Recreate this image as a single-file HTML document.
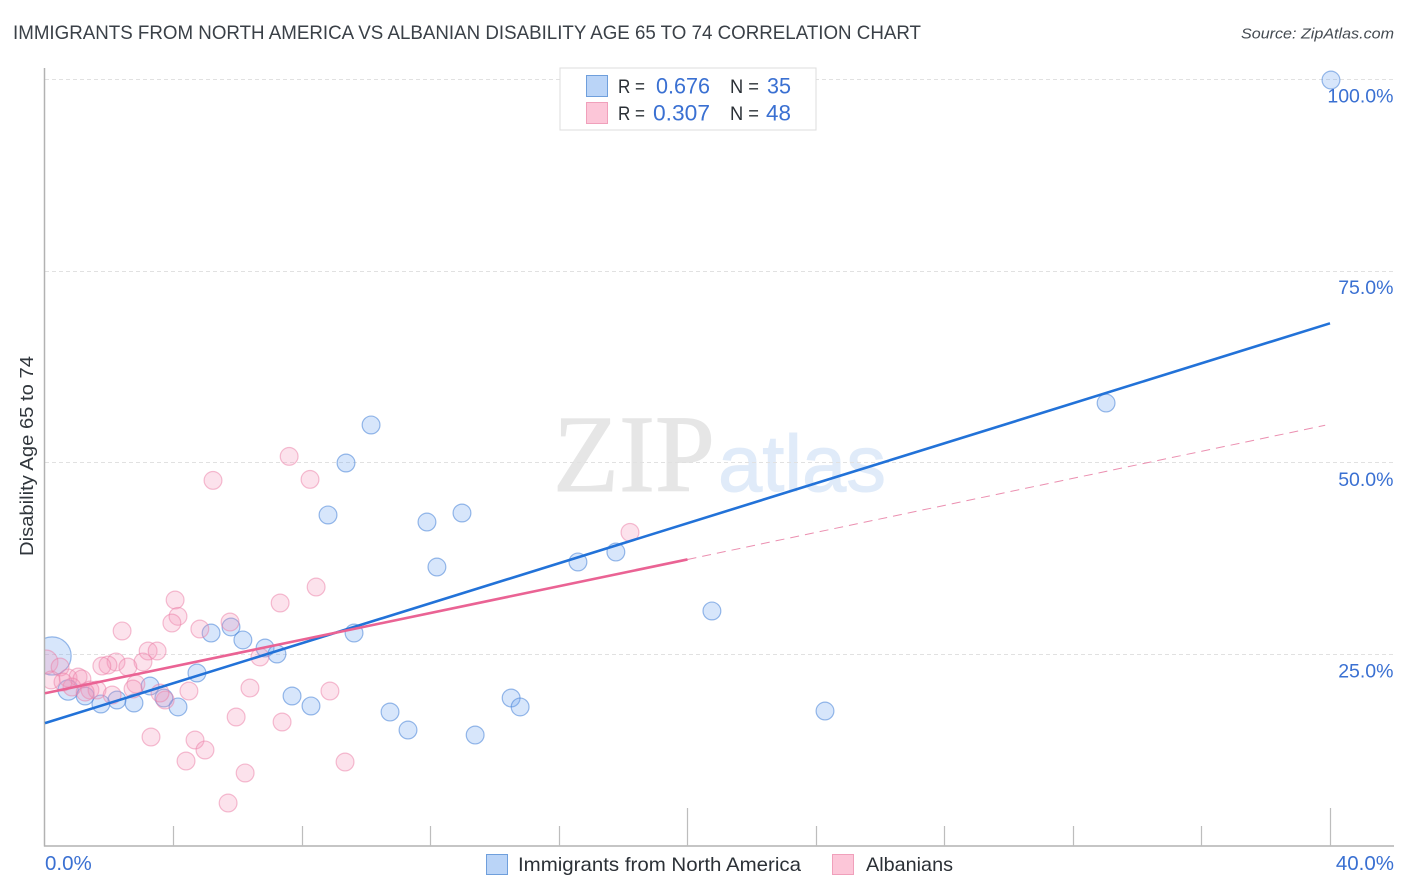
<!DOCTYPE html>
<html lang="en">
<head>
<meta charset="utf-8">
<title>Immigrants from North America vs Albanian Disability Age 65 to 74 Correlation Chart</title>
<style>
html,body{margin:0;padding:0;background:#fff;}
svg{display:block;font-family:"Liberation Sans",sans-serif;}
</style>
</head>
<body>
<svg id="chart" xmlns="http://www.w3.org/2000/svg" width="1406" height="892" viewBox="0 0 1406 892">
  <rect x="0" y="0" width="1406" height="892" fill="#ffffff"/>

  <text x="13" y="39" font-size="19.5" fill="#3a4047" textLength="908" lengthAdjust="spacingAndGlyphs">IMMIGRANTS FROM NORTH AMERICA VS ALBANIAN DISABILITY AGE 65 TO 74 CORRELATION CHART</text>
  <text x="1241" y="38.5" font-size="15" font-style="italic" fill="#444b52" textLength="153" lengthAdjust="spacingAndGlyphs">Source: ZipAtlas.com</text>

  <g>
    <text x="553" y="491" font-family="'Liberation Serif',serif" font-size="110" fill="#e6e6e6" stroke="#e6e6e6" stroke-width="1" textLength="162" lengthAdjust="spacingAndGlyphs">ZIP</text>
    <text x="718" y="491" font-size="80" fill="#e0ebf9" stroke="#e0ebf9" stroke-width="1" textLength="168" lengthAdjust="spacingAndGlyphs">atlas</text>
  </g>

  <g id="grid"></g>
  <g id="points"></g>
  <rect x="0" y="600" width="44" height="130" fill="#ffffff"/>
  <g id="axes"></g>
  <g id="lines"></g>
  <g id="labels"></g>

  <text transform="translate(33,456) rotate(-90)" text-anchor="middle" font-size="18.5" fill="#30363c" textLength="200" lengthAdjust="spacingAndGlyphs">Disability Age 65 to 74</text>

  <g>
    <rect x="560" y="68" width="256" height="62" fill="#ffffff" stroke="#dddddd" stroke-width="1"/>
    <rect x="586.5" y="75.5" width="21" height="21" fill="#bad4f7" stroke="#6f9fdc"/>
    <rect x="586.5" y="102.5" width="21" height="21" fill="#fcc6d8" stroke="#f0a0bb"/>
    <text x="618" y="93" font-size="19.5" fill="#2b3036" textLength="27" lengthAdjust="spacingAndGlyphs">R =</text>
    <text x="656" y="93.5" font-size="22" fill="#3a70d2" textLength="54" lengthAdjust="spacingAndGlyphs">0.676</text>
    <text x="730" y="93" font-size="19.5" fill="#2b3036" textLength="29" lengthAdjust="spacingAndGlyphs">N =</text>
    <text x="767" y="93.5" font-size="22" fill="#3a70d2" textLength="24" lengthAdjust="spacingAndGlyphs">35</text>
    <text x="618" y="120" font-size="19.5" fill="#2b3036" textLength="27" lengthAdjust="spacingAndGlyphs">R =</text>
    <text x="653" y="120.5" font-size="22" fill="#3a70d2" textLength="57" lengthAdjust="spacingAndGlyphs">0.307</text>
    <text x="730" y="120" font-size="19.5" fill="#2b3036" textLength="29" lengthAdjust="spacingAndGlyphs">N =</text>
    <text x="766" y="120.5" font-size="22" fill="#3a70d2" textLength="25" lengthAdjust="spacingAndGlyphs">48</text>
  </g>

  <g>
    <rect x="486.5" y="854.5" width="21" height="20" fill="#bad4f7" stroke="#6f9fdc"/>
    <text x="518" y="871" font-size="19.5" fill="#2b3036" textLength="283" lengthAdjust="spacingAndGlyphs">Immigrants from North America</text>
    <rect x="832.5" y="854.5" width="21" height="20" fill="#fcc6d8" stroke="#f0a0bb"/>
    <text x="866" y="871" font-size="19.5" fill="#2b3036" textLength="87" lengthAdjust="spacingAndGlyphs">Albanians</text>
  </g>
</svg>
<script>
// ---- data (x = %, y = %) ----
const blueX = [40.03,33.03,10.15,9.37,8.81,12.98,11.89,12.2,16.59,17.77,20.76,9.62,5.17,5.79,6.16,6.85,7.22,4.73,3.27,7.69,8.28,10.74,11.3,13.39,14.51,14.79,24.28,4.14,3.7,2.77,2.24,1.74,1.25,0.72,0.22];
const blueY = [99.93,57.8,54.94,49.98,43.2,43.46,42.28,36.41,37.07,38.37,30.68,27.8,27.8,28.59,26.9,25.85,25.07,22.59,20.89,19.59,18.29,17.5,15.15,14.5,19.33,18.16,17.63,18.16,19.33,18.68,19.07,18.55,19.59,20.37,24.81];
const blueWeight = [1,1,1,1,1,1,1,1,1,1,1,1,1,1,1,1,1,1,1,1,1,1,1,1,1,1,1,1,1,1,1,1,1,1.3,4.6];

const pinkX = [7.6,8.25,5.23,18.21,8.44,7.32,4.05,4.14,3.95,4.82,5.76,2.4,3.21,3.49,3.05,2.21,1.96,1.77,2.58,6.69,6.38,8.87,4.48,2.83,2.74,3.74,5.95,7.38,3.3,4.67,4.98,4.39,6.23,9.34,5.7,0.03,0.47,0.19,0.72,1.03,1.15,0.84,0.56,1.4,1.62,2.09,3.58,1.25];
const pinkY = [50.84,47.84,47.71,40.93,33.8,31.72,32.11,29.98,29.11,28.33,29.24,28.07,25.46,25.46,24.03,24.03,23.63,23.5,23.37,24.68,20.63,20.24,20.24,21.15,20.5,19.07,16.85,16.2,14.24,13.85,12.55,11.11,9.55,10.98,5.63,24.03,23.37,21.68,21.94,22.07,21.81,20.76,21.41,20.37,20.37,19.72,19.98,20.1];
const pinkWeight = [1,1,1,1,1,1,1,1,1,1,1,1,1,1,1,1,1,1,1,1,1,1,1,1,1,1,1,1,1,1,1,1,1,1,1,1.8,1,1,1,1,1,1,1,1,1,1,1,1];

const blueTrendX = [0, 40];
const blueTrendY = [16.05, 68.2];
const pinkTrendX = [0, 20];
const pinkTrendY = [19.95, 37.4];
const pinkDashX = [20, 39.85];
const pinkDashY = [37.4, 54.9];

const xMinorTicks = [4,8,12,16,24,28,32,36];
const xMajorTicks = [20,40];
const yTicks = [25,50,75,100];
const yTickLabels = ["25.0%","50.0%","75.0%","100.0%"];
const xEndValues = [0,40];
const xEndLabels = ["0.0%","40.0%"];

// ---- axis functions ----
const xScale = v => 45 + v * 32.125;
const yScale = v => 846.2 - v * 7.667;
const NS = "http://www.w3.org/2000/svg";
function make(tag, attrs, parent) {
  const el = document.createElementNS(NS, tag);
  for (const k in attrs) el.setAttribute(k, attrs[k]);
  parent.appendChild(el);
  return el;
}
const gridG = document.getElementById("grid");
const axesG = document.getElementById("axes");
const pointsG = document.getElementById("points");
const linesG = document.getElementById("lines");
const labelsG = document.getElementById("labels");

// gridlines
yTicks.forEach(function (t) {
  const y = Math.floor(yScale(t)) + 0.5;
  const g = make("line", {x1: 45, x2: 1394, y1: y, y2: y, stroke: "#e1e1e1", "stroke-width": 1, "stroke-dasharray": "4 3"}, gridG);
  
  
});

// axis lines
const yAxisLine = make("line", {x1: 44.5, x2: 44.5, y1: 68, y2: 846.5, stroke: "#b2b2b2", "stroke-width": 1.5}, axesG);


const xAxisLine = make("line", {x1: 44, x2: 1394, y1: 846, y2: 846, stroke: "#b2b2b2", "stroke-width": 1.5}, axesG);



// x ticks
xMinorTicks.forEach(function (t) {
  const x = Math.floor(xScale(t)) + 0.5;
  const k = make("line", {x1: x, x2: x, y1: 826, y2: 846, stroke: "#bdbdbd", "stroke-width": 1.2}, axesG);
  
  
});
xMajorTicks.forEach(function (t) {
  const x = Math.floor(xScale(t)) + 0.5;
  const k = make("line", {x1: x, x2: x, y1: 808, y2: 846, stroke: "#bdbdbd", "stroke-width": 1.2}, axesG);
  
  
});

// points
function drawSeries(xs, ys, ws, fill, stroke, name) {
  xs.forEach(function (xv, i) {
    const c = make("circle", {cx: xScale(xv), cy: yScale(ys[i]), r: 8.9 * Math.sqrt(ws[i]), fill: fill, stroke: stroke, "stroke-width": 1.2}, pointsG);
    
    
  });
}
drawSeries(blueX, blueY, blueWeight, "rgba(110,165,240,0.28)", "rgba(70,130,215,0.55)", "immigrants");
drawSeries(pinkX, pinkY, pinkWeight, "rgba(245,150,185,0.28)", "rgba(235,125,165,0.5)", "albanians");

// trend lines
const blueLine = make("line", {x1: xScale(blueTrendX[0]), y1: yScale(blueTrendY[0]), x2: xScale(blueTrendX[1]), y2: yScale(blueTrendY[1]), stroke: "#2272d8", "stroke-width": 2.6}, linesG);


const pinkLine = make("line", {x1: xScale(pinkTrendX[0]), y1: yScale(pinkTrendY[0]), x2: xScale(pinkTrendX[1]), y2: yScale(pinkTrendY[1]), stroke: "#ea6394", "stroke-width": 2.6}, linesG);


const pinkDash = make("line", {x1: xScale(pinkDashX[0]), y1: yScale(pinkDashY[0]), x2: xScale(pinkDashX[1]), y2: yScale(pinkDashY[1]), stroke: "#eb8fb0", "stroke-width": 1, "stroke-dasharray": "9 6"}, linesG);



// tick labels
yTicks.forEach(function (t, i) {
  const txt = make("text", {x: 1393.5, y: yScale(t) + 23, "text-anchor": "end", "font-size": 19.5, fill: "#3a70d2"}, labelsG);
  
  
  txt.textContent = yTickLabels[i];
});
xEndValues.forEach(function (t, i) {
  const txt = make("text", {x: i === 0 ? xScale(t) : xScale(t) + 64, y: 870, "text-anchor": i === 0 ? "start" : "end", "font-size": 20.5, fill: "#3a70d2"}, labelsG);
  
  
  txt.textContent = xEndLabels[i];
});
</script>
</body>
</html>
